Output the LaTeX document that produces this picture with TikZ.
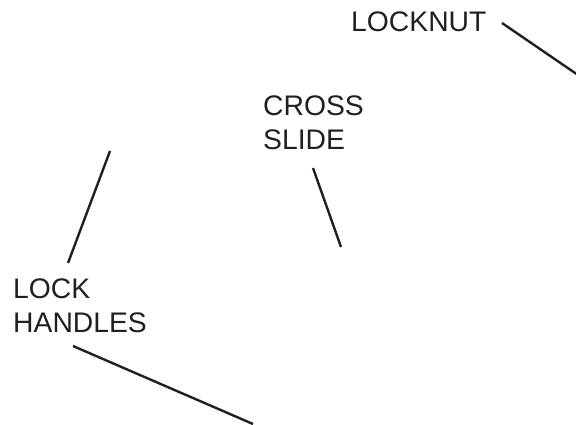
\documentclass[tikz,border=0pt]{standalone}
\usepackage{fontspec}
\setmainfont{Liberation Sans}
\definecolor{ink}{HTML}{231F20}
\begin{document}
\begin{tikzpicture}[x=1pt,y=-1pt,
  callout/.style={inner sep=0pt,anchor=base west,align=left,text=ink,
    font=\fontsize{28.3}{34}\selectfont},
  leader/.style={draw=ink,line width=2.4pt}]
\useasboundingbox (0,0) rectangle (576,425);

% labels (a two-line label sits on the baseline of its last line)
\node[callout] (locknut) at (351,32) {LOCKNUT};
\node[callout] (cross) at (263,150) {CROSS\\SLIDE};
\node[callout] (lock) at (13,332) {LOCK\\HANDLES};

% leader line end points
\coordinate (ln1) at (502,23);
\coordinate (ln2) at (578,75);
\coordinate (cs1) at (313,168);
\coordinate (cs2) at (341,247);
\coordinate (lh1) at (110,151);
\coordinate (lh2) at (68,263);
\coordinate (lh3) at (73,346);
\coordinate (lh4) at (253,424);

% leader lines
\draw[leader] (ln1) -- (ln2);
\draw[leader] (cs1) -- (cs2);
\draw[leader] (lh1) -- (lh2);
\draw[leader] (lh3) -- (lh4);
\end{tikzpicture}
\end{document}
